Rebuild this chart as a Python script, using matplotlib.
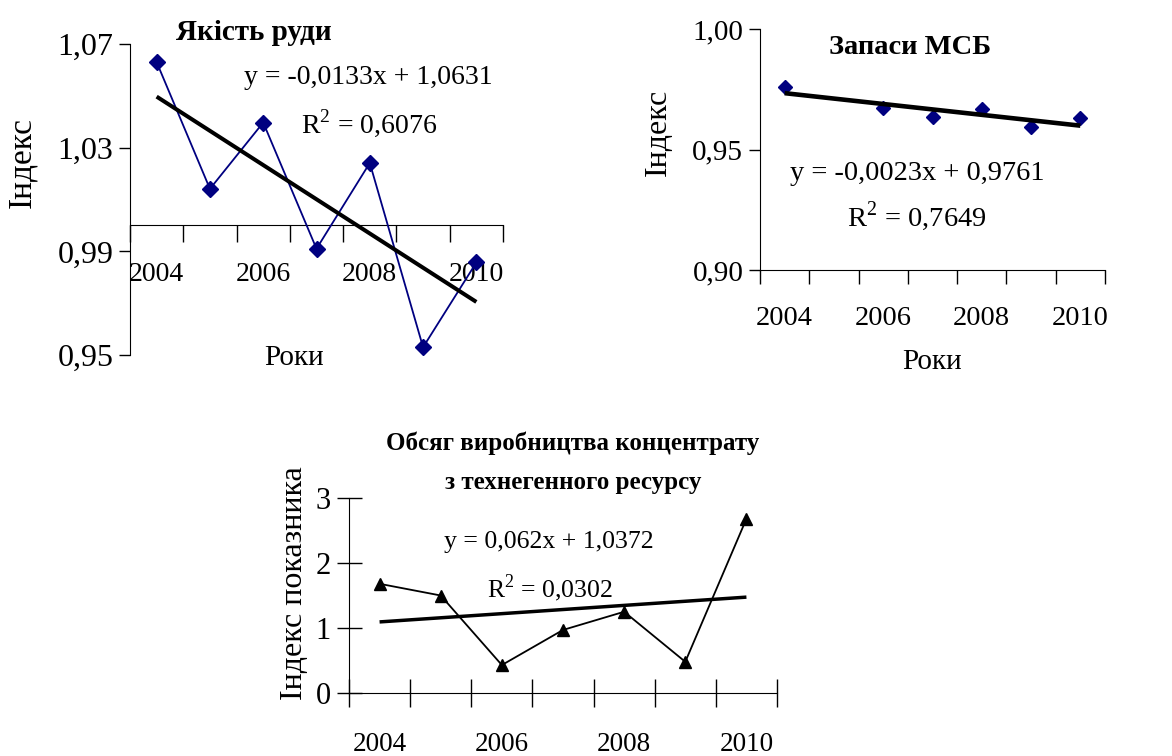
import numpy as np
import matplotlib
matplotlib.use("Agg")
import matplotlib.pyplot as plt

plt.rcParams['font.family'] = ['Liberation Serif', 'DejaVu Serif']

years = [2004, 2005, 2006, 2007, 2008, 2009, 2010]
year_labels = ['2004', '2006', '2008', '2010']

ore_quality = [1.0630, 1.0141, 1.0397, 0.9910, 1.0241, 0.9530, 0.9857]
reserves = [0.9758, np.nan, 0.9671, 0.9636, 0.9667, 0.9592, 0.9629]
concentrate = [1.68, 1.50, 0.43, 0.97, 1.25, 0.48, 2.68]

W, H = 1172, 756
fig = plt.figure(figsize=(W / 100, H / 100), dpi=100)


def px_axes(left, top, right, bottom):
    return fig.add_axes([left / W, 1 - bottom / H, (right - left) / W, (bottom - top) / H])


def trend(ax, vals, lw):
    x = np.arange(1, len(vals) + 1)
    v = np.array(vals, dtype=float)
    m = ~np.isnan(v)
    k, b = np.polyfit(x[m], v[m], 1)
    xx = np.array([1, len(vals)])
    ax.plot(xx, k * xx + b, color='black', lw=lw, solid_capstyle='butt', zorder=4)


def setup_cat_axis(ax, tick_dir, tick_len, ytick_len, pad, xfs, yfs):
    n = len(years)
    ax.set_xlim(0.5, n + 0.5)
    ax.set_xticks(np.arange(0.5, n + 1.0, 1.0))
    ax.set_xticklabels([])
    ax.set_xticks([1, 3, 5, 7], minor=True)
    ax.set_xticklabels(year_labels, minor=True, fontsize=xfs)
    ax.tick_params(axis='x', which='major', direction=tick_dir, length=tick_len, width=1)
    ax.tick_params(axis='x', which='minor', length=0, pad=pad)
    ax.tick_params(axis='y', direction=tick_dir, length=ytick_len, width=1,
                   labelsize=yfs, pad=4)
    for s in ['top', 'right']:
        ax.spines[s].set_visible(False)
    ax.patch.set_alpha(0)


def fig_text(x, y, s, **kw):
    fig.text(x / W, 1 - y / H, s, ha='center', va='center', **kw)


R2 = r'R$^{\mathregular{2}}$'

# ---------- Top-left: Якість руди ----------
ax1 = px_axes(130, 44, 503, 355)
x = np.arange(1, 8)
ax1.spines['bottom'].set_position(('data', 1.0))
ax1.plot(x, ore_quality, color='#000080', lw=1.3, marker='D', ms=8, mfc='#000080', mec='#000080', zorder=3)
trend(ax1, ore_quality, 2.9)
ax1.set_ylim(0.95, 1.07)
ax1.set_yticks([0.95, 0.99, 1.03, 1.07])
ax1.set_yticklabels(['0,95', '0,99', '1,03', '1,07'])
setup_cat_axis(ax1, 'out', 12, 8, 26, 20, 23)
fig_text(254, 32, 'Якість руди', fontsize=21, fontweight='bold')
fig_text(368, 77, 'y = -0,0133x + 1,0631', fontsize=20)
fig_text(369, 123, R2 + ' = 0,6076', fontsize=20)
fig_text(22, 163, 'Індекс', fontsize=24, rotation=90)
fig_text(294, 358, 'Роки', fontsize=21)

# ---------- Top-right: Запаси МСБ ----------
ax2 = px_axes(760, 29, 1105, 270)
ax2.plot(x, reserves, color='#000080', lw=0, marker='D', ms=7, mfc='#000080', mec='#000080', zorder=3)
trend(ax2, reserves, 3.3)
ax2.set_ylim(0.90, 1.00)
ax2.set_yticks([0.90, 0.95, 1.00])
ax2.set_yticklabels(['0,90', '0,95', '1,00'])
setup_cat_axis(ax2, 'out', 10, 8, 26, 20.5, 21)
fig_text(910, 47, 'Запаси МСБ', fontsize=20.5, fontweight='bold')
fig_text(917, 173, 'y = -0,0023x + 0,9761', fontsize=20.5)
fig_text(917, 216, R2 + ' = 0,7649', fontsize=20.5)
fig_text(658, 132, 'Індекс', fontsize=23, rotation=90)
fig_text(932, 362, 'Роки', fontsize=21)

# ---------- Bottom: Обсяг виробництва концентрату ----------
ax3 = px_axes(349, 498, 777, 693)
ax3.plot(x, concentrate, color='black', lw=1.3, marker='^', ms=9, mfc='black', mec='black', zorder=3)
trend(ax3, concentrate, 2.5)
ax3.set_ylim(0, 3)
ax3.set_yticks([0, 1, 2, 3])
ax3.set_yticklabels(['0', '1', '2', '3'])
setup_cat_axis(ax3, 'inout', 20, 18, 28, 19.5, 22)
fig_text(573, 443, 'Обсяг виробництва концентрату', fontsize=18, fontweight='bold')
fig_text(573, 483, 'з технегенного ресурсу', fontsize=18, fontweight='bold')
fig_text(549, 542, 'y = 0,062x + 1,0372', fontsize=18.5)
fig_text(550, 588, R2 + ' = 0,0302', fontsize=18.5)
fig_text(294, 583, 'Індекс показника', fontsize=23, rotation=90)

fig.savefig('out.png', dpi=100, facecolor='white')
